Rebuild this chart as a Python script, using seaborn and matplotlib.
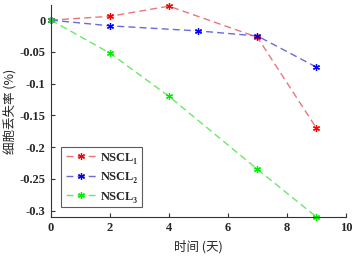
import numpy as np
import pandas as pd
import matplotlib
matplotlib.use("Agg")
import matplotlib.pyplot as plt
import seaborn as sns

# data
x1 = [0, 2, 4, 7, 9]
y1 = [0, 0.006, 0.022, -0.027, -0.170]
x2 = [0, 2, 5, 7, 9]
y2 = [0, -0.009, -0.017, -0.025, -0.074]
x3 = [0, 2, 4, 7, 9]
y3 = [0, -0.052, -0.120, -0.235, -0.310]
names = ["NSCL₁", "NSCL₂", "NSCL₃"]
xticks = [0, 2, 4, 6, 8, 10]
yticks = [0, -0.05, -0.1, -0.15, -0.2, -0.25, -0.3]
ytick_labels = ["0", "-0.05", "-0.1", "-0.15", "-0.2", "-0.25", "-0.3"]

df = pd.concat([
    pd.DataFrame({"t": x1, "v": y1, "s": names[0]}),
    pd.DataFrame({"t": x2, "v": y2, "s": names[1]}),
    pd.DataFrame({"t": x3, "v": y3, "s": names[2]}),
])

sns.set_style("ticks")
plt.rcParams['font.family'] = ['Liberation Serif', 'DejaVu Serif', 'Noto Sans CJK SC']

fig = plt.figure(figsize=(3.54, 2.57), dpi=100)
ax = fig.add_axes([0.144, 0.156, 0.833, 0.825])

line_colors = ["#e8777a", "#6a6ad8", "#6ae86a"]
marker_colors = ["#ff0000", "#0000ff", "#00ee00"]
mk = (6, 2, 0)
sns.lineplot(data=df, x="t", y="v", hue="s", palette=line_colors, ax=ax,
             linestyle=(0, (5, 3)), lw=1.0, marker=mk, markersize=5,
             legend=False, clip_on=False)
for line, mc in zip(ax.get_lines(), marker_colors):
    line.set_markeredgecolor(mc)
    line.set_markerfacecolor(mc)
    line.set_markeredgewidth(0.9)
    line.set_clip_on(False)

handles = []
for lc, mc, n in zip(line_colors, marker_colors, names):
    h, = ax.plot([], [], linestyle=(0, (5, 3)), color=lc, lw=1.0, marker=mk,
                 markersize=5, markeredgecolor=mc, markerfacecolor=mc, markeredgewidth=0.9)
    handles.append(h)
leg = ax.legend(handles, names, loc="lower left", bbox_to_anchor=(0.027, 0.035),
                prop={'family': ['Liberation Serif', 'DejaVu Serif'], 'weight': 'bold', 'size': 9},
                frameon=True, fancybox=False, edgecolor="#333333",
                handlelength=2.5, labelspacing=0.6, borderpad=0.35, handletextpad=0.3,
                borderaxespad=0.2)
leg.get_frame().set_linewidth(0.8)

ax.set_xlim(0, 10)
ax.set_ylim(-0.31, 0.024)
ax.set_xticks(xticks)
ax.set_yticks(yticks)
ax.set_yticklabels(ytick_labels)
ax.tick_params(direction="in", length=3, labelsize=9, color="#333333", width=0.8, pad=4)
for lab in ax.get_xticklabels() + ax.get_yticklabels():
    lab.set_fontweight("bold")
for s in ["top", "right"]:
    ax.spines[s].set_visible(False)
for s in ["left", "bottom"]:
    ax.spines[s].set_color("#333333")
    ax.spines[s].set_linewidth(0.8)
ax.set_xlabel("时间 (天)", fontsize=9, family=['Noto Sans CJK SC'], labelpad=4)
ax.set_ylabel("细胞丢失率 (%)", fontsize=9, family=['Noto Sans CJK SC'], labelpad=2)

fig.savefig("out.png", dpi=100)
